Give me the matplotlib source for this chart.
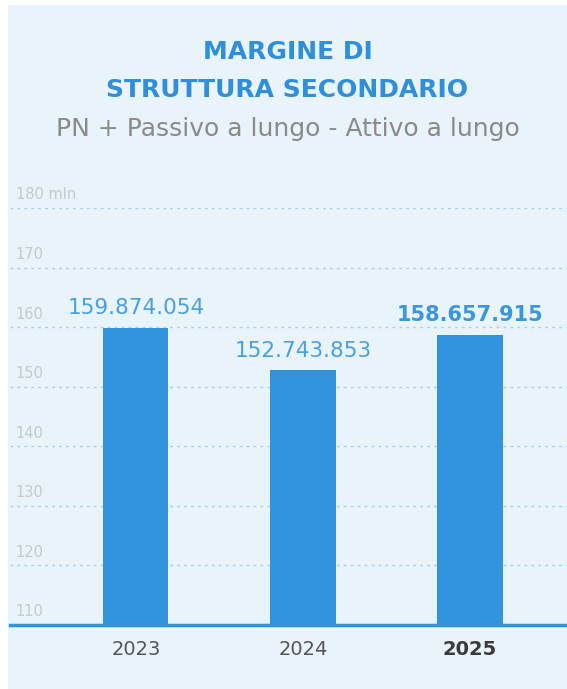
import matplotlib
matplotlib.use("Agg")
import matplotlib.pyplot as plt
from matplotlib.patches import Rectangle

plt.rcParams['font.family'] = ['DejaVu Sans']

# --- dati ---
anni = ["2023", "2024", "2025"]
valori = [159.874054, 152.743853, 158.657915]
etichette_valori = ["159.874.054", "152.743.853", "158.657.915"]
tick_valori = [110, 120, 130, 140, 150, 160, 170, 180]
tick_etichette = ["110", "120", "130", "140", "150", "160", "170", "180 mln"]

# --- colori ---
SFONDO = "#e8f3fa"
BLU = "#3293dd"
BLU_TESTO = "#4a9fe2"
GRIGLIA = "#a6d0f0"
GRIGIO_TICK = "#c6cacd"
GRIGIO_SOTTOTITOLO = "#8a8a8a"
GRIGIO_ANNI = "#555555"

W, H = 567, 689
fig = plt.figure(figsize=(W / 100, H / 100), dpi=100, facecolor="white")

# pannello azzurro
fig.patches.append(Rectangle((8 / W, 0), 1 - 8 / W, 1 - 5 / H,
                             transform=fig.transFigure, facecolor=SFONDO,
                             edgecolor="none", zorder=-5))

# assi: base a y=625px (110), cima a y=208px (180)
left, right = 10 / W, 1.0
bottom, top = 1 - 625 / H, 1 - 208 / H
ax = fig.add_axes([left, bottom, right - left, top - bottom])
ax.set_facecolor("none")
ax.set_zorder(1)

x = list(range(len(anni)))
ax.bar(x, valori, width=0.39, color=BLU, zorder=3)
ax.set_ylim(110, 180)
ax.set_xlim(-0.754, 2.581)

for v in tick_valori[1:]:
    ax.axhline(v, color=GRIGLIA, linestyle=(0, (2, 3)), linewidth=1, zorder=1)
for v, lab in zip(tick_valori, tick_etichette):
    ax.annotate(lab, xy=(0.01, v), xycoords=("axes fraction", "data"),
                xytext=(0, 4), textcoords="offset points",
                ha="left", va="bottom", fontsize=10.5, color=GRIGIO_TICK)

ax.axhline(110, color=BLU, linewidth=2.5, zorder=4, clip_on=False)

for i, (v, lab) in enumerate(zip(valori, etichette_valori)):
    ultimo = i == len(valori) - 1
    ax.annotate(lab, xy=(i, v), xytext=(0, 7), textcoords="offset points",
                ha="center", va="bottom", fontsize=15 if ultimo else 15.5,
                color="#3a97de" if ultimo else BLU_TESTO,
                fontweight="bold" if ultimo else "normal")

for i, anno in enumerate(anni):
    ultimo = i == len(anni) - 1
    ax.annotate(anno, xy=(i, 110), xytext=(0, -11), textcoords="offset points",
                ha="center", va="top", fontsize=14,
                color="#3a3a3a" if ultimo else GRIGIO_ANNI,
                fontweight="bold" if ultimo else "normal")

for s in ax.spines.values():
    s.set_visible(False)
ax.set_xticks([])
ax.set_yticks([])

# titolo
cx = (8 + W) / 2 / W
fig.text(cx, 1 - 52 / H, "MARGINE DI", ha="center", va="center",
         fontsize=18, fontweight="bold", color="#2f8fdc")
fig.text(cx, 1 - 90 / H, "STRUTTURA SECONDARIO", ha="center", va="center",
         fontsize=18, fontweight="bold", color="#2f8fdc")
fig.text(cx, 1 - 129 / H, "PN + Passivo a lungo - Attivo a lungo", ha="center",
         va="center", fontsize=18, color=GRIGIO_SOTTOTITOLO)

fig.savefig("out.png", dpi=100, facecolor="white")
